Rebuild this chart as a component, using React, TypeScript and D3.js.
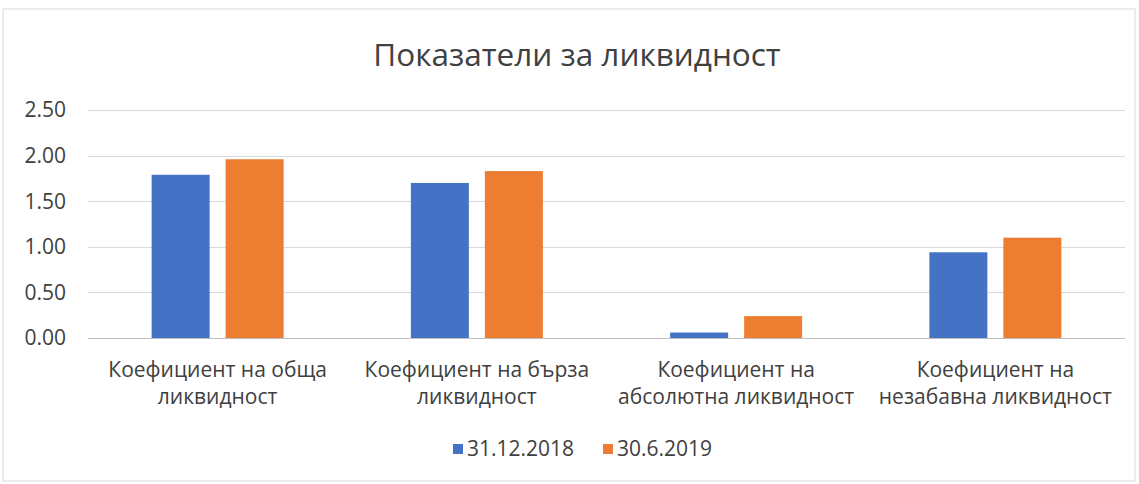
import * as d3 from "d3";

const categories = [
  ["Коефициент на обща", "ликвидност"],
  ["Коефициент на бърза", "ликвидност"],
  ["Коефициент на", "абсолютна ликвидност"],
  ["Коефициент на", "незабавна ликвидност"],
];
const seriesNames = ["31.12.2018", "30.6.2019"];
const values2018 = [1.79, 1.7, 0.06, 0.94];
const values2019 = [1.96, 1.83, 0.24, 1.1];
const yTicks = [0, 0.5, 1, 1.5, 2, 2.5];

const colors = ["#4472C4", "#ED7D31"];
const W = 1139;
const H = 484;
const font = "'Open Sans', sans-serif";

const x = d3
  .scaleBand<number>()
  .domain(d3.range(categories.length))
  .range([88, 1125])
  .paddingInner(0)
  .paddingOuter(0);
const y = d3.scaleLinear().domain([0, 2.5]).range([338, 110]);
const barW = 58;
const barGap = 16;

export default function App() {
  const series = [values2018, values2019];
  return (
    <svg
      width={W}
      height={H}
      style={{ position: "fixed", left: 0, top: 0, background: "#fff" }}
      fontFamily={font}
    >
      <rect x={3} y={9} width={1132} height={472} fill="#fff" stroke="#d9d9d9" />
      <text x={577} y={66} textAnchor="middle" fontSize={31.5} fill="#404040">
        Показатели за ликвидност
      </text>
      {/* gridlines */}
      {yTicks.map((t) => (
        <g key={t}>
          <line
            x1={88}
            x2={1125}
            y1={Math.round(y(t)) + 0.5}
            y2={Math.round(y(t)) + 0.5}
            stroke={t === 0 ? "#bfbfbf" : "#d9d9d9"}
          />
          <text
            x={66}
            y={y(t)}
            dy="0.35em"
            textAnchor="end"
            fontSize={21}
            fill="#404040"
          >
            {t.toFixed(2)}
          </text>
        </g>
      ))}
      {/* bars */}
      {categories.map((c, i) => {
        const cx = x(i)! + x.bandwidth() / 2;
        return (
          <g key={i}>
            {series.map((s, j) => {
              const bx = cx - barGap / 2 - barW + j * (barW + barGap);
              return (
                <rect
                  key={j}
                  x={bx}
                  y={y(s[i])}
                  width={barW}
                  height={y(0) - y(s[i])}
                  fill={colors[j]}
                />
              );
            })}
            {c.map((line, k) => (
              <text
                key={k}
                x={cx}
                y={377 + k * 27}
                textAnchor="middle"
                fontSize={21}
                fill="#404040"
              >
                {line}
              </text>
            ))}
          </g>
        );
      })}
      {/* legend */}
      <g>
        <rect x={453} y={444} width={10} height={10} fill={colors[0]} />
        <text x={467} y={449} dy="0.35em" fontSize={21} fill="#404040">
          {seriesNames[0]}
        </text>
        <rect x={603} y={444} width={10} height={10} fill={colors[1]} />
        <text x={617} y={449} dy="0.35em" fontSize={21} fill="#404040">
          {seriesNames[1]}
        </text>
      </g>
    </svg>
  );
}
